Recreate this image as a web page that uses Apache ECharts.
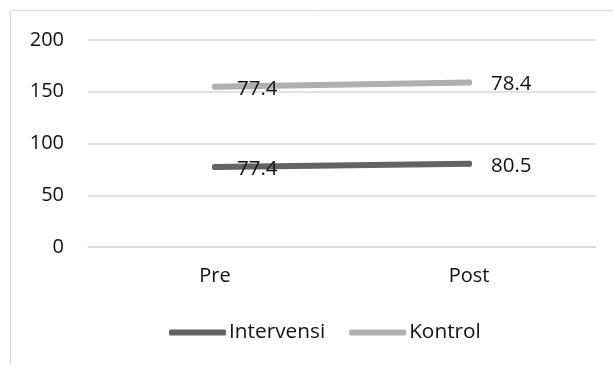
<!DOCTYPE html>
<html>
<head>
<meta charset="utf-8">
<script src="https://cdn.jsdelivr.net/npm/echarts@6/dist/echarts.min.js"></script>
<style>
  html, body { margin: 0; padding: 0; background: #fff; }
  #chart { width: 613px; height: 365px; }
</style>
</head>
<body>
<div id="chart"></div>
<script>
// Stacked line chart: Intervensi and Kontrol, pre vs post
const categories = ['Pre', 'Post'];
const intervensi = [77.4, 80.5];
const kontrol = [77.4, 78.4];
const yTicks = { min: 0, max: 200, interval: 50 };

const FONT = '"Open Sans", "Noto Sans", sans-serif';
const TEXT = '#111';

const chart = echarts.init(document.getElementById('chart'), null, { renderer: 'canvas' });

function lineSeries(name, data, color) {
  return {
    name: name,
    type: 'line',
    stack: 'total',
    data: data,
    symbol: 'circle',
    symbolSize: 6,
    itemStyle: { color: color },
    lineStyle: { color: color, width: 6, cap: 'round' },
    label: {
      show: true,
      position: 'right',
      distance: 19,
      offset: [0, 2],
      color: TEXT,
      fontFamily: FONT,
      fontSize: 20.5
    },
    emphasis: { disabled: true },
    animation: false
  };
}

chart.setOption({
  backgroundColor: '#fff',
  animation: false,
  graphic: [{
    type: 'rect',
    shape: { x: 10.5, y: 10.5, width: 700, height: 500 },
    style: { fill: 'none', stroke: '#d9d9d9', lineWidth: 1 },
    silent: true,
    z: -10
  }],
  grid: { left: 88, right: 17, top: 40, bottom: 118 },
  xAxis: {
    type: 'category',
    data: categories,
    boundaryGap: true,
    axisLine: { show: true, lineStyle: { color: '#d9d9d9', width: 1.5 } },
    axisTick: { show: false },
    axisLabel: { color: TEXT, fontFamily: FONT, fontSize: 20, margin: 19 }
  },
  yAxis: {
    type: 'value',
    min: yTicks.min,
    max: yTicks.max,
    interval: yTicks.interval,
    axisLine: { show: false },
    axisTick: { show: false },
    splitLine: { lineStyle: { color: '#d9d9d9', width: 1.5 } },
    axisLabel: { color: TEXT, fontFamily: FONT, fontSize: 20, margin: 24 }
  },
  legend: {
    bottom: 17,
    left: 164,
    itemWidth: 57,
    itemHeight: 6,
    itemGap: 24,
    icon: 'roundRect',
    textStyle: { color: TEXT, fontFamily: FONT, fontSize: 20.8, padding: [0, 0, 0, -2] },
    data: ['Intervensi', 'Kontrol']
  },
  series: [
    lineSeries('Intervensi', intervensi, '#636363'),
    lineSeries('Kontrol', kontrol, '#afafaf')
  ]
});
</script>
</body>
</html>
